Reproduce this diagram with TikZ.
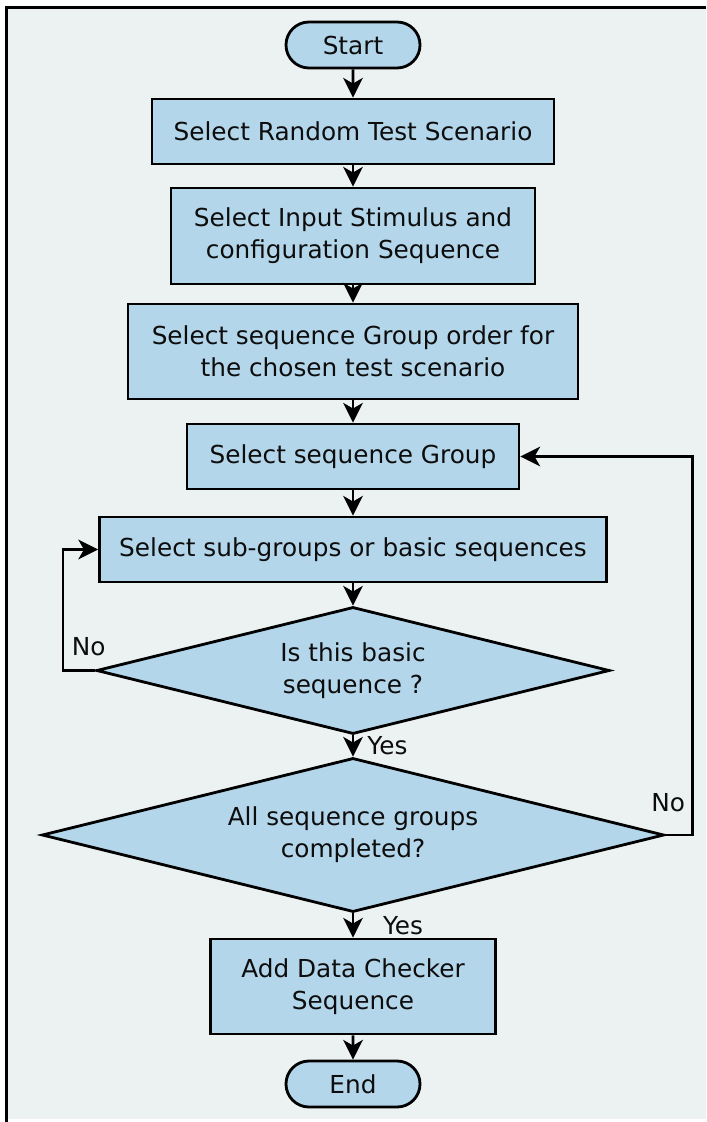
\documentclass[tikz,border=0pt]{standalone}
\usepackage{fontspec}
\setmainfont{DejaVu Sans}
\usepackage{tikz}
\usetikzlibrary{shapes.geometric, shapes.misc, arrows.meta}
\definecolor{boxfill}{HTML}{B4D6EB}
\definecolor{pagebg}{HTML}{ECF2F2}

\begin{document}
\begin{tikzpicture}[x=0.025cm, y=-0.025cm,
    every node/.style={font=\fontsize{17.6}{22.8}\selectfont, text=black!95},
    process/.style={rectangle, draw, line width=2pt, fill=boxfill, align=center, inner sep=0pt},
    decision/.style={diamond, draw, line width=2pt, fill=boxfill, align=center, inner sep=0pt, shape aspect=4},
    terminal/.style={rounded rectangle, draw, line width=2pt, fill=boxfill, inner sep=0pt,
                     minimum width=3.35cm, minimum height=1.15cm},
    flow/.style={-{Stealth[length=14pt, width=14pt, inset=4pt]}, line width=1.8pt},
    lbl/.style={inner sep=0pt}]
    \useasboundingbox (0,0) rectangle (706,1122);
    % page frame
    \fill[white] (0,0) rectangle (706,1122);
    \fill[pagebg] (5,6) rectangle (706,1119);
    \draw[line width=2.2pt] (6.5,1122) -- (6.5,7.5) -- (706,7.5);

    \node[terminal](start)                                              at (353,45)    {Start};
    \node[process, minimum width=10.05cm, minimum height=1.625cm](scen)   at (353,131.5) {Select Random Test Scenario};
    \node[process, minimum width=9.1cm, minimum height=2.4cm](stim)       at (353,236)   {Select Input Stimulus and\\configuration Sequence};
    \node[process, minimum width=11.25cm, minimum height=2.375cm](order)  at (353,351.5) {Select sequence Group order for\\the chosen test scenario};
    \node[process, minimum width=8.3cm, minimum height=1.625cm](group)    at (353,456.5) {Select sequence Group};
    \node[process, minimum width=12.675cm, minimum height=1.625cm](sub)   at (353,549.5) {Select sub-groups or basic sequences};
    \node[decision, minimum width=12.825cm, minimum height=3.175cm](basic) at (353,670.5) {Is this basic\\sequence ?};
    \node[decision, minimum width=15.55cm, minimum height=3.85cm](done)   at (353,835)   {All sequence groups\\completed?};
    \node[process, minimum width=7.125cm, minimum height=2.375cm](check)  at (353,986.5) {Add Data Checker\\Sequence};
    \node[terminal](end)                                                at (353,1084)  {End};

    \path[flow]
        (start) edge (scen)
        (scen)  edge (stim)
        (stim)  edge (order)
        (order) edge (group)
        (group) edge (sub)
        (sub)   edge (basic)
        (basic) edge node[lbl, right=0.33cm](yes1) {Yes} (done)
        (done)  edge node[lbl, right=0.72cm](yes2) {Yes} (check)
        (check) edge (end);

    % loops back
    \draw[flow] (basic.west) -- node[lbl, pos=0.2, above=0.33cm](no1) {No} ++(-32,0) |- (sub.west);
    \draw[flow] (done.east) -- node[lbl, pos=0.1, above=0.55cm](no2) {No} ++(27,0) |- (group.east);
\end{tikzpicture}
\end{document}
